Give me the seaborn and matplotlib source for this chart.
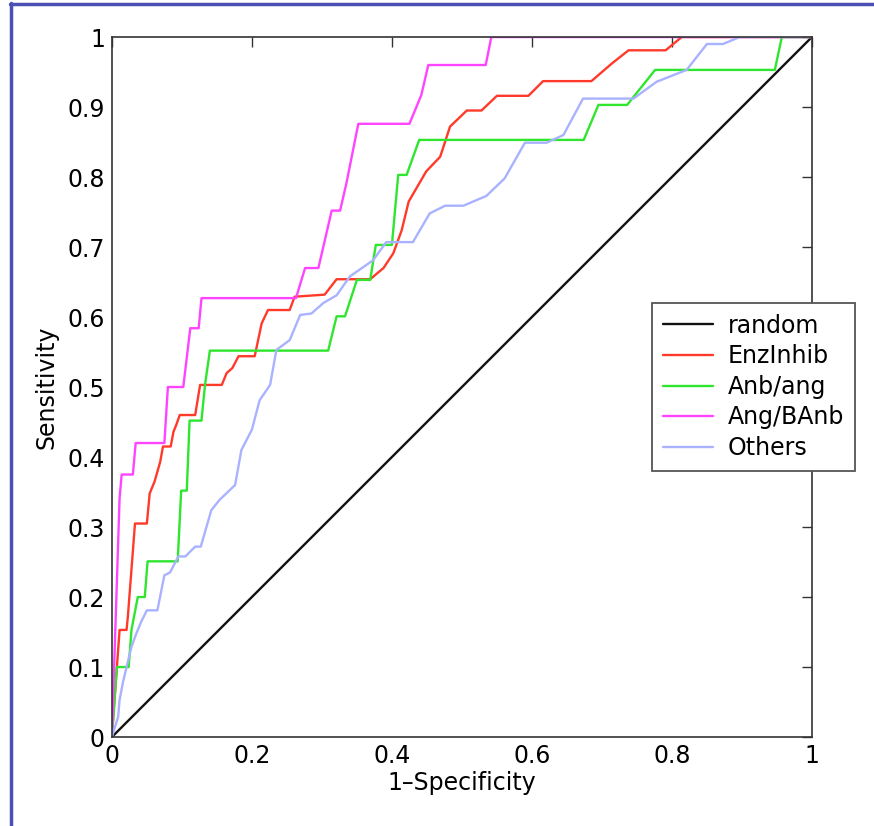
import numpy as np
import pandas as pd
import matplotlib
matplotlib.use("Agg")
import matplotlib.pyplot as plt
from matplotlib.lines import Line2D
import seaborn as sns

# ROC curves
random_x = [0.0, 1.0]
random_y = [0.0, 1.0]

enz_x = [0, 0.011, 0.021, 0.023, 0.033, 0.050, 0.054, 0.061, 0.069, 0.073,
         0.084, 0.088, 0.092, 0.097, 0.119, 0.126, 0.157, 0.164, 0.172, 0.181,
         0.204, 0.214, 0.223, 0.254, 0.261, 0.304, 0.321, 0.369, 0.388, 0.402,
         0.414, 0.424, 0.449, 0.469, 0.483, 0.507, 0.528, 0.550, 0.595, 0.616,
         0.685, 0.714, 0.738, 0.791, 0.814, 1.0]
enz_y = [0, 0.153, 0.153, 0.174, 0.305, 0.305, 0.348, 0.365, 0.393, 0.415,
         0.415, 0.436, 0.446, 0.46, 0.46, 0.503, 0.503, 0.52, 0.527, 0.544,
         0.544, 0.591, 0.61, 0.61, 0.629, 0.632, 0.654, 0.654, 0.67, 0.691,
         0.724, 0.765, 0.808, 0.829, 0.872, 0.895, 0.895, 0.916, 0.916, 0.937,
         0.937, 0.962, 0.981, 0.981, 1.0, 1.0]

anb_x = [0, 0.007, 0.024, 0.028, 0.037, 0.047, 0.051, 0.094, 0.099, 0.107,
         0.111, 0.128, 0.133, 0.140, 0.309, 0.321, 0.333, 0.350, 0.369, 0.377,
         0.400, 0.409, 0.421, 0.439, 0.674, 0.695, 0.736, 0.776, 0.947, 0.957,
         1.0]
anb_y = [0, 0.10, 0.10, 0.153, 0.20, 0.20, 0.251, 0.251, 0.352, 0.352,
         0.452, 0.452, 0.503, 0.552, 0.552, 0.601, 0.601, 0.653, 0.653, 0.703,
         0.703, 0.803, 0.803, 0.853, 0.853, 0.903, 0.903, 0.953, 0.953, 1.0,
         1.0]

ang_x = [0, 0.011, 0.014, 0.030, 0.034, 0.075, 0.080, 0.102, 0.112, 0.124,
         0.128, 0.263, 0.276, 0.295, 0.314, 0.326, 0.335, 0.352, 0.425, 0.442,
         0.452, 0.534, 0.542, 1.0]
ang_y = [0, 0.341, 0.375, 0.375, 0.42, 0.42, 0.50, 0.50, 0.584, 0.584,
         0.627, 0.627, 0.67, 0.67, 0.752, 0.752, 0.791, 0.876, 0.876, 0.917,
         0.96, 0.96, 1.0, 1.0]

oth_x = [0, 0.009, 0.011, 0.016, 0.021, 0.028, 0.035, 0.042, 0.050, 0.065,
         0.075, 0.083, 0.095, 0.105, 0.119, 0.127, 0.142, 0.154, 0.176, 0.185,
         0.200, 0.211, 0.226, 0.235, 0.254, 0.269, 0.285, 0.302, 0.321, 0.340,
         0.373, 0.392, 0.430, 0.454, 0.476, 0.502, 0.535, 0.561, 0.590, 0.621,
         0.645, 0.673, 0.745, 0.778, 0.821, 0.850, 0.873, 0.897, 1.0]
oth_y = [0, 0.029, 0.053, 0.079, 0.10, 0.129, 0.148, 0.165, 0.181, 0.181,
         0.231, 0.235, 0.258, 0.258, 0.272, 0.272, 0.324, 0.339, 0.36, 0.41,
         0.439, 0.481, 0.503, 0.553, 0.567, 0.603, 0.605, 0.62, 0.631, 0.658,
         0.681, 0.707, 0.707, 0.748, 0.759, 0.759, 0.773, 0.798, 0.849, 0.849,
         0.86, 0.912, 0.912, 0.936, 0.953, 0.99, 0.99, 1.0, 1.0]

labels = ["random", "EnzInhib", "Anb/ang", "Ang/BAnb", "Others"]
colors = ["#111111", "#ff3a2a", "#2ee62e", "#ff44ff", "#a9b2ff"]

sns.set_style("white")
plt.rcParams['font.family'] = ['DejaVu Sans']
plt.rcParams['text.color'] = 'black'
plt.rcParams['axes.labelcolor'] = 'black'
plt.rcParams['xtick.color'] = 'black'
plt.rcParams['ytick.color'] = 'black'

series = [(random_x, random_y), (enz_x, enz_y), (anb_x, anb_y),
          (ang_x, ang_y), (oth_x, oth_y)]
frames = []
for lab, (xs, ys) in zip(labels, series):
    frames.append(pd.DataFrame({"fpr": xs, "tpr": ys, "group": lab}))
df = pd.concat(frames, ignore_index=True)

fig = plt.figure(figsize=(8.74, 8.26), dpi=100)
ax = fig.add_axes([0.128, 0.1077, 0.801, 0.8475])

sns.lineplot(data=df, x="fpr", y="tpr", hue="group", hue_order=labels,
             palette=dict(zip(labels, colors)), units="group", estimator=None,
             sort=False, linewidth=1.7, ax=ax)

ax.set_xlim(0, 1)
ax.set_ylim(0, 1)
ax.set_xticks(np.arange(0, 1.01, 0.2))
ax.set_xticklabels(["0", "0.2", "0.4", "0.6", "0.8", "1"])
ax.set_yticks(np.arange(0, 1.01, 0.1))
ax.set_yticklabels(["0", "0.1", "0.2", "0.3", "0.4", "0.5", "0.6", "0.7",
                    "0.8", "0.9", "1"])
ax.tick_params(direction="in", length=7, width=1, color="#333333",
               labelcolor="black", top=True, right=True, labelsize=17, pad=5)
for s in ax.spines.values():
    s.set_color("#333333")
    s.set_linewidth(1.2)
ax.set_xlabel("1\u2013Specificity", fontsize=17, labelpad=2, color="black")
ax.set_ylabel("Sensitivity", fontsize=17, labelpad=6, color="black")

handles = [Line2D([], [], color=c, lw=1.7) for c in colors]
leg = ax.legend(handles, labels, loc="upper left", bbox_to_anchor=(0.772, 0.62),
                fontsize=17, frameon=True, fancybox=False, handlelength=2.1,
                handletextpad=0.65, borderpad=0.45, labelspacing=0.28,
                borderaxespad=0, labelcolor="black")
leg.get_frame().set_edgecolor("#555555")
leg.get_frame().set_linewidth(1.3)
leg.get_frame().set_alpha(1)

# blue frame round the screenshot
fig.add_artist(Line2D([0.0128, 0.0128], [0, 0.996], color="#4b50b4", lw=2.5,
                      transform=fig.transFigure))
fig.add_artist(Line2D([0.0115, 1.0], [0.9955, 0.9955], color="#4b50b4", lw=2.5,
                      transform=fig.transFigure))

fig.savefig("out.png", dpi=100)
